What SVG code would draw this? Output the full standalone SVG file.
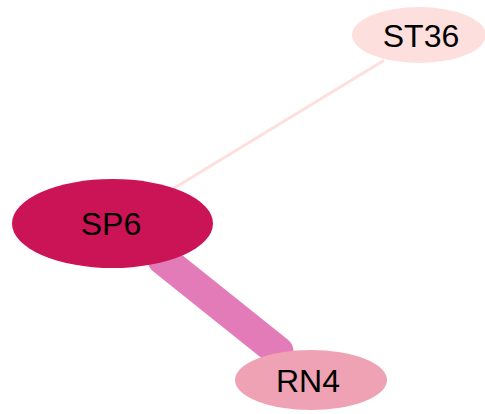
<svg xmlns="http://www.w3.org/2000/svg" width="485" height="414" viewBox="0 0 485 414">
<style>
.lbl{font-family:"Liberation Sans",Arial,sans-serif;font-size:32px;fill:#000;text-anchor:middle}
.e{fill:none;stroke-linecap:round}
</style>
<rect width="485" height="414" fill="#fff"/>
<g id="edges">
<line class="e" x1="383" y1="61" x2="171" y2="190" stroke="#fde0dd" stroke-width="3"/>
<line class="e" x1="163" y1="259.5" x2="278" y2="351.5" stroke="#e37bb8" stroke-width="31"/>
</g>
<g id="ST36">
<ellipse cx="419" cy="35" rx="67" ry="28" fill="#fde0dd"/>
<text class="lbl" x="421" y="47">ST36</text>
</g>
<g id="SP6">
<ellipse cx="112.5" cy="223.5" rx="100.5" ry="44.5" fill="#cb1455"/>
<text class="lbl" x="111" y="235">SP6</text>
</g>
<g id="RN4">
<ellipse cx="311" cy="380" rx="76" ry="30" fill="#efa2b3"/>
<text class="lbl" x="308" y="392">RN4</text>
</g>
</svg>
